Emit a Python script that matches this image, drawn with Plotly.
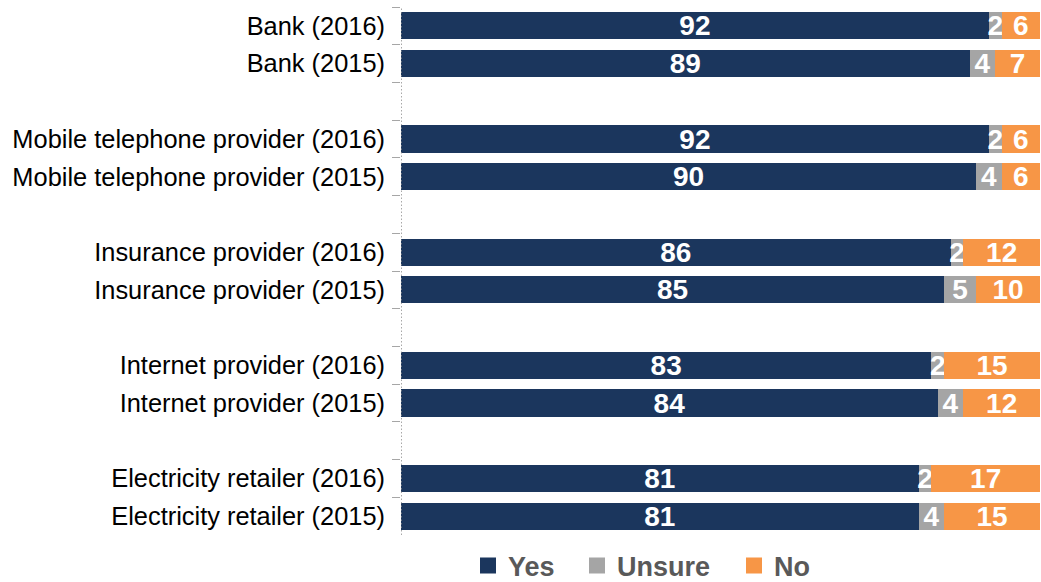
import plotly.graph_objects as go

# Survey responses (%), one row per provider and year
categories = [
    "Bank (2016)", "Bank (2015)",
    "Mobile telephone provider (2016)", "Mobile telephone provider (2015)",
    "Insurance provider (2016)", "Insurance provider (2015)",
    "Internet provider (2016)", "Internet provider (2015)",
    "Electricity retailer (2016)", "Electricity retailer (2015)",
]
yes = [92, 89, 92, 90, 86, 85, 83, 84, 81, 81]
unsure = [2, 4, 2, 4, 2, 5, 2, 4, 2, 4]
no = [6, 7, 6, 6, 12, 10, 15, 12, 17, 15]

series_names = ["Yes", "Unsure", "No"]
series_colors = ["#1b365d", "#a5a5a5", "#f79646"]

# Blank rows separate each provider pair
row_order = []
for i in range(0, len(categories), 2):
    if i > 0:
        row_order.append(" " * (i // 2))
    row_order += categories[i:i + 2]

FONT = "Liberation Sans, Arial, sans-serif"

fig = go.Figure()
for name, vals, color in zip(series_names, [yes, unsure, no], series_colors):
    fig.add_trace(go.Bar(
        y=categories, x=vals, name=name, orientation="h",
        marker=dict(color=color, line=dict(width=0)),
        width=0.72,
        text=vals, texttemplate="%{x}",
        textposition="inside", insidetextanchor="middle",
        constraintext="none", textangle=0,
        textfont=dict(family=FONT, size=28, color="white", weight="bold"),
        showlegend=False, hoverinfo="skip",
    ))

# Legend entries, each in its own legend box so they can be spaced freely
legend_x = [468, 577, 734]
for k, (name, color) in enumerate(zip(series_names, series_colors)):
    lg = "legend" if k == 0 else f"legend{k + 1}"
    fig.add_trace(go.Scatter(
        x=[None], y=[None], mode="markers", name=name,
        marker=dict(symbol="square", size=16, color=color),
        legend=lg, showlegend=True,
    ))

legend_style = dict(
    orientation="h", xref="container", yref="container",
    yanchor="middle", y=1 - 566 / 582, xanchor="left",
    font=dict(family=FONT, size=27, color="#595959", weight="bold"),
    bgcolor="rgba(0,0,0,0)", borderwidth=0, itemwidth=30,
)
layout_legends = {}
for k, lx in enumerate(legend_x):
    key = "legend" if k == 0 else f"legend{k + 1}"
    layout_legends[key] = dict(legend_style, x=lx / 1041)

fig.update_layout(
    width=1041, height=582,
    margin=dict(l=401, r=1, t=7, b=47),
    paper_bgcolor="white", plot_bgcolor="white",
    barmode="stack", bargap=0.28,
    font=dict(family=FONT, color="#000000"),
    xaxis=dict(range=[0, 100], visible=False, fixedrange=True),
    yaxis=dict(
        type="category", categoryorder="array", categoryarray=row_order,
        autorange="reversed", showgrid=False, zeroline=False, showline=False,
        ticks="outside", tickson="boundaries", ticklen=8, tickwidth=1,
        tickcolor="#a6a6a6", ticklabelstandoff=15,
        tickfont=dict(family=FONT, size=25.4, color="#000000"),
        automargin=False,
    ),
    shapes=[dict(
        type="line", xref="x", yref="paper", x0=0, x1=0, y0=0, y1=1,
        line=dict(color="#8c8c8c", width=1.5, dash="1.5px,2px"), layer="above",
    )],
    **layout_legends,
)

fig.write_html("out.html")
